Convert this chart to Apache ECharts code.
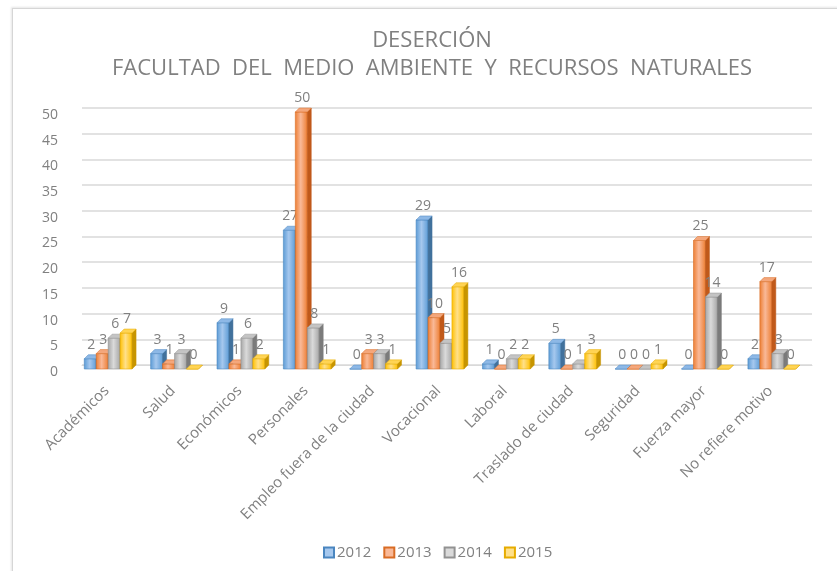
<!DOCTYPE html>
<html>
<head>
<meta charset="utf-8">
<script src="https://cdn.jsdelivr.net/npm/echarts@6/dist/echarts.min.js"></script>
<style>
  html, body { margin: 0; padding: 0; background: #fff; }
  #frame { position: absolute; left: 12px; top: 8px; width: 900px; height: 700px; border: 1px solid #d6d6d6; box-shadow: -1px -1px 2px #e6e6e6; }
  #chart { position: absolute; left: 0; top: 0; width: 837px; height: 571px; }
</style>
</head>
<body>
<div id="frame"></div>
<div id="chart"></div>
<script>
// datos
const categories = ['Académicos', 'Salud', 'Económicos', 'Personales', 'Empleo fuera de la ciudad', 'Vocacional', 'Laboral', 'Traslado de ciudad', 'Seguridad', 'Fuerza mayor', 'No refiere motivo']
const years = ['2012', '2013', '2014', '2015']
const data2012 = [2, 3, 9, 27, 0, 29, 1, 5, 0, 0, 2]
const data2013 = [3, 1, 1, 50, 3, 10, 0, 0, 0, 25, 17]
const data2014 = [6, 3, 6, 8, 3, 5, 2, 1, 0, 14, 3]
const data2015 = [7, 0, 2, 1, 1, 16, 2, 3, 1, 0, 0]
const yMax = 50
const yStep = 5

const seriesData = [data2012, data2013, data2014, data2015]

// colores de las caras (frente, lado, tapa)
const palette = [
  { base: '#5b9bd5', light: '#a6c8ee', side: '#41719c', top: '#8db8e6', line: '#4a86c0' },
  { base: '#ed7d31', light: '#f9b998', side: '#c0591a', top: '#f4a77c', line: '#d96c24' },
  { base: '#a5a5a5', light: '#dadada', side: '#7b7b7b', top: '#c4c4c4', line: '#929292' },
  { base: '#ffc000', light: '#ffe08a', side: '#c79500', top: '#ffd454', line: '#e6ac00' }
]

const textColor = '#808080'
const fontFamily = '"Open Sans", "Noto Sans", sans-serif'

// barras con efecto 3D
const makeRender = (k) => {
  return (params, api) => {
    const i = api.value(0)
    const v = api.value(1)
    const base = api.coord([i, 0])
    const top = api.coord([i, v])
    const band = api.size([1, 0])[0]
    const w = band * 0.18
    const d = 4
    const c = palette[k]
    const x = base[0] - d - 2 * w - 3 + k * w
    const yb = base[1] + d
    const yt = top[1] + d
    const front = new echarts.graphic.LinearGradient(0, 0, 1, 0, [
      { offset: 0, color: c.base },
      { offset: 0.45, color: c.light },
      { offset: 1, color: c.base }
    ])
    return {
      type: 'group',
      children: [
        {
          type: 'rect',
          shape: { x: x, y: yt, width: w, height: Math.max(yb - yt, 0) },
          style: { fill: front, stroke: c.line, lineWidth: 0.6 }
        },
        {
          type: 'polygon',
          shape: { points: [[x + w, yt], [x + w + d, yt - d], [x + w + d, yb - d], [x + w, yb]] },
          style: { fill: c.side, stroke: c.side, lineWidth: 0.5 }
        },
        {
          type: 'polygon',
          shape: { points: [[x, yt], [x + d, yt - d], [x + w + d, yt - d], [x + w, yt]] },
          style: { fill: c.top, stroke: c.line, lineWidth: 0.5 }
        },
        {
          type: 'text',
          x: x + w / 2 + 1,
          y: yt - 7,
          style: {
            text: String(v),
            fill: textColor,
            font: '14px ' + fontFamily,
            align: 'center',
            verticalAlign: 'bottom'
          }
        }
      ]
    }
  }
}

const chart = echarts.init(document.getElementById('chart'))

const option = {
  animation: false,
  title: [
    {
      text: 'DESERCIÓN',
      left: 427,
      top: 25,
      textAlign: 'center',
      textStyle: { color: textColor, fontSize: 22, fontWeight: 'normal', fontFamily: fontFamily }
    },
    {
      text: 'FACULTAD  DEL  MEDIO  AMBIENTE  Y  RECURSOS  NATURALES',
      left: 427,
      top: 53,
      textAlign: 'center',
      textStyle: { color: textColor, fontSize: 22, fontWeight: 'normal', fontFamily: fontFamily }
    }
  ],
  legend: {
    data: years,
    left: 318,
    top: 540,
    icon: 'rect',
    itemWidth: 10,
    itemHeight: 10,
    itemGap: 12,
    textStyle: { color: textColor, fontSize: 15, fontFamily: fontFamily, padding: [0, 0, 0, -2] }
  },
  grid: { left: 82, right: 25, top: 108, bottom: 206 },
  xAxis: {
    type: 'category',
    data: categories,
    axisLine: { show: true, lineStyle: { color: '#d9d9d9' } },
    axisTick: { show: false },
    axisLabel: {
      interval: 0,
      rotate: 45,
      margin: 15,
      padding: [0, 12, 0, 0],
      color: textColor,
      fontSize: 15,
      fontFamily: fontFamily
    }
  },
  yAxis: {
    type: 'value',
    min: 0,
    max: yMax,
    interval: yStep,
    axisLine: { show: false },
    axisTick: { show: false },
    splitLine: { lineStyle: { color: '#d9d9d9', width: 1.5 } },
    axisLabel: {
      margin: 24,
      verticalAlign: 'top',
      color: textColor,
      fontSize: 14,
      fontFamily: fontFamily
    }
  },
  series: years.map((y, k) => ({
    name: y,
    type: 'custom',
    renderItem: makeRender(k),
    itemStyle: { color: palette[k].light, borderColor: palette[k].line, borderWidth: 1 },
    encode: { x: 0, y: 1 },
    data: seriesData[k].map((v, i) => [i, v])
  }))
}

chart.setOption(option)
</script>
</body>
</html>
